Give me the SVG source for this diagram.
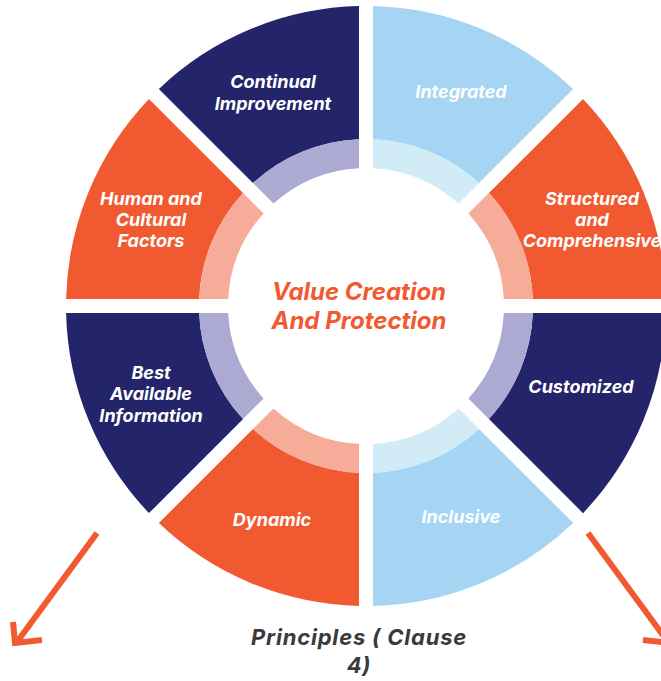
<svg xmlns="http://www.w3.org/2000/svg" xmlns:xlink="http://www.w3.org/1999/xlink" width="661" height="681" viewBox="0 0 661 681">
<style>
.lbl{font-family:Inter,"Liberation Sans",Arial,sans-serif;font-weight:700;font-style:italic;font-size:18px;fill:#ffffff;text-anchor:middle}
.ctr{font-family:Inter,"Liberation Sans",Arial,sans-serif;font-weight:700;font-style:italic;font-size:24px;fill:#F15A31;text-anchor:middle}
.ttl{font-family:Inter,"Liberation Sans",Arial,sans-serif;font-weight:700;font-style:italic;font-size:22px;letter-spacing:0.8px;fill:#3a3a3c;text-anchor:middle}
.navy{fill:#24246A}.orange{fill:#F15A31}.blue{fill:#A5D5F3}
.lav{fill:#ACA9D3}.salmon{fill:#F7AC99}.pale{fill:#D2ECF7}
.arr{fill:none;stroke:#F15A31;stroke-width:6;stroke-linejoin:miter}
</style>
<defs>
<path id="seg" d="M 7 -299.918 A 300 300 0 0 1 207.125 -217.025 L 113.034 -122.934 A 167 167 0 0 0 7 -166.853 Z"/>
<path id="ring" d="M 7 -166.853 A 167 167 0 0 1 113.034 -122.934 L 92.505 -102.405 A 138 138 0 0 0 7 -137.822 Z"/>
</defs>
<rect width="661" height="681" fill="#ffffff"/>
<g id="integrated">
<use xlink:href="#seg" class="blue" transform="translate(366 306) rotate(0)"/>
<use xlink:href="#ring" class="pale" transform="translate(366 306) rotate(0)"/>
<text class="lbl" x="461" y="98">Integrated</text>
</g>
<g id="structured">
<use xlink:href="#seg" class="orange" transform="translate(366 306) rotate(45)"/>
<use xlink:href="#ring" class="salmon" transform="translate(366 306) rotate(45)"/>
<text class="lbl" x="592" y="205">Structured</text>
<text class="lbl" x="592" y="226">and</text>
<text class="lbl" x="592" y="247">Comprehensive</text>
</g>
<g id="customized">
<use xlink:href="#seg" class="navy" transform="translate(366 306) rotate(90)"/>
<use xlink:href="#ring" class="lav" transform="translate(366 306) rotate(90)"/>
<text class="lbl" x="581" y="393">Customized</text>
</g>
<g id="inclusive">
<use xlink:href="#seg" class="blue" transform="translate(366 306) rotate(135)"/>
<use xlink:href="#ring" class="pale" transform="translate(366 306) rotate(135)"/>
<text class="lbl" x="461" y="523">Inclusive</text>
</g>
<g id="dynamic">
<use xlink:href="#seg" class="orange" transform="translate(366 306) rotate(180)"/>
<use xlink:href="#ring" class="salmon" transform="translate(366 306) rotate(180)"/>
<text class="lbl" x="272" y="526">Dynamic</text>
</g>
<g id="best-available-information">
<use xlink:href="#seg" class="navy" transform="translate(366 306) rotate(225)"/>
<use xlink:href="#ring" class="lav" transform="translate(366 306) rotate(225)"/>
<text class="lbl" x="151" y="379">Best</text>
<text class="lbl" x="151" y="400">Available</text>
<text class="lbl" x="151" y="422">Information</text>
</g>
<g id="human-cultural-factors">
<use xlink:href="#seg" class="orange" transform="translate(366 306) rotate(270)"/>
<use xlink:href="#ring" class="salmon" transform="translate(366 306) rotate(270)"/>
<text class="lbl" x="151" y="205">Human and</text>
<text class="lbl" x="151" y="226">Cultural</text>
<text class="lbl" x="151" y="247">Factors</text>
</g>
<g id="continual-improvement">
<use xlink:href="#seg" class="navy" transform="translate(366 306) rotate(315)"/>
<use xlink:href="#ring" class="lav" transform="translate(366 306) rotate(315)"/>
<text class="lbl" x="273" y="88">Continual</text>
<text class="lbl" x="273" y="110">Improvement</text>
</g>
<g id="center">
<text class="ctr" x="359" y="300">Value Creation</text>
<text class="ctr" x="359" y="329">And Protection</text>
</g>
<g id="title">
<text class="ttl" x="359" y="645">Principles ( Clause</text>
<text class="ttl" x="359" y="673">4)</text>
</g>
<g id="connectors">
<path class="arr" d="M 97 533 L 17 642"/>
<path class="arr" d="M 13 622 L 15 643 L 42 640"/>
<path class="arr" d="M 588 533 L 668 642"/>
<path class="arr" d="M 672 622 L 670 643 L 643 640"/>
</g>
</svg>
